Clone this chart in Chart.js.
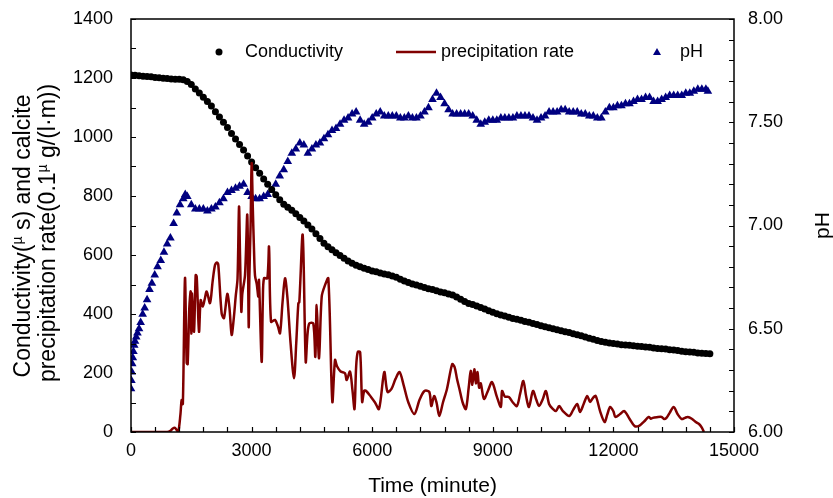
<!DOCTYPE html>
<html>
<head>
<meta charset="utf-8">
<script src="https://cdn.jsdelivr.net/npm/chart.js@4.4.0/dist/chart.umd.min.js"></script>
<style>
  html, body { margin: 0; padding: 0; background: #fff; }
  canvas { display: block; }
</style>
</head>
<body>
<canvas id="chart" width="833" height="498"></canvas>
<script>
const FONT = '"Liberation Sans", Arial, sans-serif';

// Conductivity (black dots), minutes / uS
const condTime = [0,100,200,300,400,500,600,700,800,900,1000,1100,1200,1300,1400,1500,1600,1700,1800,1900,
  2000,2100,2200,2300,2400,2500,2600,2700,2800,2900,3000,3100,3200,3300,3400,3500,3600,3700,3800,3900,
  4000,4100,4200,4300,4400,4500,4600,4700,4800,4900,5000,5100,5200,5300,5400,5500,5600,5700,5800,5900,
  6000,6100,6200,6300,6400,6500,6600,6700,6800,6900,7000,7100,7200,7300,7400,7500,7600,7700,7800,7900,
  8000,8100,8200,8300,8400,8500,8600,8700,8800,8900,9000,9100,9200,9300,9400,9500,9600,9700,9800,9900,
  10000,10100,10200,10300,10400,10500,10600,10700,10800,10900,11000,11100,11200,11300,11400,11500,11600,11700,11800,11900,
  12000,12100,12200,12300,12400,12500,12600,12700,12800,12900,13000,13100,13200,13300,13400,13500,13600,13700,13800,13900,
  14000,14100,14200,14300,14400];
const condValue = [1210,1209,1208,1206,1205,1204,1202,1201,1199,1198,1197,1196,1196,1194,1188,1178,1163,1149,1135,1120,
  1105,1086,1068,1050,1032,1012,993,975,956,936,915,896,877,858,840,822,804,787,772,762,
  752,740,727,715,702,688,672,656,640,628,618,608,598,589,580,572,565,560,555,551,
  546,543,539,536,533,529,525,518,512,507,502,498,494,490,486,483,479,475,472,468,
  464,458,450,442,436,432,427,422,417,411,406,401,397,393,389,385,382,379,375,372,
  368,364,360,357,353,350,347,343,340,337,333,330,326,322,318,314,310,307,304,302,
  300,298,296,295,294,292,291,290,288,287,285,283,282,281,279,278,276,274,272,271,
  270,268,267,266,265];

// Calcite precipitation rate (dark red line)
const precTime = [0,300,600,900,980,1040,1095,1140,1177,1230,1260,1290,1343,1385,1410,1450,1485,1500,1515,1567,
  1609,1635,1692,1733,1783,1833,1883,1965,2030,2090,2140,2172,2255,2313,2396,2450,2504,2560,2604,2650,
  2687,2712,2745,2770,2836,2893,2928,2945,2975,3002,3030,3060,3085,3130,3167,3184,3250,3280,3308,3391,
  3433,3483,3582,3650,3707,3770,3831,3889,3970,4055,4110,4163,4187,4271,4346,4390,4436,4535,4585,4619,
  4677,4744,4826,4909,5008,5075,5125,5216,5323,5366,5448,5510,5560,5600,5640,5700,5750,5800,5850,5970,
  6070,6170,6300,6380,6480,6580,6680,6780,6900,7050,7180,7300,7420,7470,7540,7600,7670,7760,7860,7990,
  8050,8110,8170,8250,8330,8400,8450,8490,8540,8580,8620,8660,8700,8780,8880,8980,9100,9200,9230,9300,
  9400,9500,9600,9680,9760,9830,9900,10000,10080,10150,10240,10320,10400,10480,10570,10650,10750,10900,11000,11100,
  11170,11260,11350,11420,11490,11560,11670,11780,11850,11920,12000,12050,12160,12270,12400,12530,12650,12760,12880,12930,
  12980,13080,13200,13260,13320,13400,13500,13600,13700,13780,13850,13950,14050,14130,14200,14250];
const precRate = [0,0,0,0,4,12,14,6,0,60,108,95,522,234,230,420,476,334,470,340,
  532,526,340,447,425,450,476,437,510,566,575,566,402,386,468,420,329,390,459,520,
  764,600,408,470,532,736,357,530,700,911,760,617,530,500,459,515,238,450,521,521,
  628,374,380,360,335,440,521,459,300,182,300,436,440,668,238,330,368,368,255,430,
  250,459,498,521,103,244,223,205,199,176,205,140,78,220,271,271,102,140,139,119,
  100,78,203,136,146,180,203,160,100,61,110,139,136,88,122,100,54,100,146,230,
  220,180,146,100,78,150,207,160,213,165,203,150,165,112,140,169,120,85,139,120,
  119,100,88,130,173,120,85,139,110,88,110,139,95,80,71,88,70,54,75,95,
  68,95,122,102,115,122,70,34,60,85,70,51,60,71,45,20,22,35,51,45,
  48,50,51,44,48,65,85,60,44,48,51,45,34,27,15,0];

// pH (navy triangles)
const phTime = [0,10,20,30,45,60,80,100,130,160,200,240,290,340,400,460,520,590,660,740,
  820,900,980,1060,1140,1220,1300,1350,1400,1500,1600,1700,1800,1900,2000,2100,2200,2300,2400,2500,
  2600,2700,2800,2900,3000,3100,3200,3300,3400,3500,3600,3700,3800,3900,4000,4100,4200,4300,4400,4500,
  4600,4700,4800,4900,5000,5100,5200,5300,5400,5500,5600,5700,5800,5900,6000,6100,6200,6300,6400,6500,
  6600,6700,6800,6900,7000,7100,7200,7300,7400,7500,7600,7700,7800,7900,8000,8100,8200,8300,8400,8500,
  8600,8700,8800,8900,9000,9100,9200,9300,9400,9500,9600,9700,9800,9900,10000,10100,10200,10300,10400,10500,
  10600,10700,10800,10900,11000,11100,11200,11300,11400,11500,11600,11700,11800,11900,12000,12100,12200,12300,12400,12500,
  12600,12700,12800,12900,13000,13100,13200,13300,13400,13500,13600,13700,13800,13900,14000,14100,14200,14300,14350];
const phValue = [6.21,6.25,6.29,6.33,6.36,6.39,6.42,6.44,6.46,6.48,6.50,6.53,6.57,6.60,6.64,6.69,6.72,6.76,6.80,6.83,
  6.87,6.91,6.94,7.01,7.06,7.10,7.13,7.15,7.14,7.10,7.08,7.08,7.08,7.07,7.08,7.09,7.11,7.13,7.16,7.17,
  7.18,7.19,7.20,7.16,7.14,7.13,7.13,7.14,7.15,7.17,7.20,7.24,7.27,7.31,7.35,7.37,7.40,7.39,7.35,7.37,
  7.39,7.40,7.42,7.44,7.46,7.47,7.49,7.51,7.52,7.54,7.55,7.51,7.49,7.50,7.52,7.54,7.55,7.53,7.53,7.53,
  7.53,7.52,7.52,7.53,7.52,7.52,7.53,7.55,7.57,7.61,7.64,7.62,7.59,7.56,7.54,7.54,7.54,7.54,7.54,7.53,
  7.51,7.49,7.50,7.51,7.51,7.51,7.52,7.52,7.52,7.52,7.53,7.53,7.53,7.53,7.52,7.51,7.52,7.53,7.55,7.55,
  7.55,7.56,7.56,7.55,7.55,7.55,7.54,7.54,7.53,7.53,7.52,7.52,7.55,7.57,7.57,7.58,7.58,7.59,7.59,7.60,
  7.61,7.61,7.62,7.62,7.60,7.60,7.61,7.62,7.63,7.63,7.63,7.63,7.64,7.64,7.65,7.66,7.66,7.66,7.65];

const toPoints = (xs, ys) => xs.map((x, i) => ({ x, y: ys[i] }));

// Axis frame, inward tick marks, titles and legend drawn on top
const decorPlugin = {
  id: 'decor',
  afterDraw(chart) {
    const { ctx, chartArea: a, scales } = chart;
    ctx.save();
    ctx.strokeStyle = '#000';
    ctx.lineWidth = 1.5;
    ctx.strokeRect(a.left, a.top, a.right - a.left, a.bottom - a.top);

    ctx.lineWidth = 1.2;
    ctx.beginPath();
    const tl = 5;
    scales.x.ticks.forEach(t => {
      const px = Math.round(scales.x.getPixelForValue(t.value)) + 0.5;
      ctx.moveTo(px, a.bottom); ctx.lineTo(px, a.bottom - tl);
    });
    scales.y.ticks.forEach(t => {
      const py = Math.round(scales.y.getPixelForValue(t.value)) + 0.5;
      ctx.moveTo(a.left, py); ctx.lineTo(a.left + tl, py);
    });
    scales.y1.ticks.forEach(t => {
      const py = Math.round(scales.y1.getPixelForValue(t.value)) + 0.5;
      ctx.moveTo(a.right, py); ctx.lineTo(a.right - tl, py);
    });
    ctx.stroke();

    ctx.fillStyle = '#000';
    ctx.textBaseline = 'middle';

    // x title
    ctx.font = `21px ${FONT}`;
    ctx.textAlign = 'center';
    ctx.fillText('Time (minute)', (a.left + a.right) / 2, 486);

    // right title
    ctx.save();
    ctx.translate(823, (a.top + a.bottom) / 2);
    ctx.rotate(-Math.PI / 2);
    ctx.fillText('pH', 0, 0);
    ctx.restore();

    // left title, two lines with a small raised mu
    const drawRotLine = (parts, cx, cy) => {
      ctx.save();
      ctx.translate(cx, cy);
      ctx.rotate(-Math.PI / 2);
      ctx.textAlign = 'left';
      let w = 0;
      parts.forEach(p => { ctx.font = `${p.sup ? 14 : 23}px ${FONT}`; w += ctx.measureText(p.t).width; });
      let x = -w / 2;
      parts.forEach(p => {
        ctx.font = `${p.sup ? 14 : 23}px ${FONT}`;
        ctx.fillText(p.t, x, p.sup ? -6 : 0);
        x += ctx.measureText(p.t).width;
      });
      ctx.restore();
    };
    drawRotLine([{ t: 'Conductivity(' }, { t: 'µ', sup: true }, { t: ' s) and calcite' }], 24, 236);
    drawRotLine([{ t: 'precipitation rate(0.1' }, { t: 'µ', sup: true }, { t: ' g/(l·m))' }], 49, 233);

    // legend
    const ds = chart.data.datasets;
    ctx.font = `18px ${FONT}`;
    ctx.textAlign = 'left';
    const ly = 52;
    ctx.fillStyle = ds[0].backgroundColor;
    ctx.beginPath(); ctx.arc(219, ly, 3.5, 0, Math.PI * 2); ctx.fill();
    ctx.fillStyle = '#000';
    ctx.fillText(ds[0].label, 245, ly);

    ctx.strokeStyle = ds[1].borderColor;
    ctx.lineWidth = 2.5;
    ctx.beginPath(); ctx.moveTo(396, ly); ctx.lineTo(436, ly); ctx.stroke();
    ctx.fillText(ds[1].label, 441, ly);

    ctx.fillStyle = ds[2].backgroundColor;
    ctx.beginPath();
    ctx.moveTo(657, ly - 4); ctx.lineTo(661, ly + 3); ctx.lineTo(653, ly + 3); ctx.closePath(); ctx.fill();
    ctx.fillStyle = '#000';
    ctx.fillText(ds[2].label, 680, ly);
    ctx.restore();
  }
};

const tickFont = { family: FONT, size: 18 };

// Fix each axis box so the plot area lands where the reference has it
const fixBox = (w, h) => s => {
  if (w !== null) s.width = w;
  if (h !== null) s.height = h;
  s.paddingTop = 0;
  s.paddingBottom = 0;
};

new Chart(document.getElementById('chart').getContext('2d'), {
  type: 'line',
  data: {
    datasets: [
      {
        label: 'Conductivity',
        data: toPoints(condTime, condValue),
        yAxisID: 'y',
        showLine: false,
        pointRadius: 3.5,
        pointBorderWidth: 0,
        backgroundColor: '#000000',
        borderColor: '#000000',
        order: 2
      },
      {
        label: 'precipitation rate',
        data: toPoints(precTime, precRate),
        yAxisID: 'y',
        borderColor: '#800000',
        backgroundColor: '#800000',
        borderWidth: 2.5,
        pointRadius: 0,
        tension: 0.3,
        order: 1
      },
      {
        label: 'pH',
        data: toPoints(phTime, phValue),
        yAxisID: 'y1',
        showLine: false,
        pointStyle: 'triangle',
        pointRadius: 5,
        pointBorderWidth: 0,
        backgroundColor: '#000080',
        borderColor: '#000080',
        order: 3
      }
    ]
  },
  options: {
    responsive: false,
    animation: false,
    layout: { padding: { top: 19, left: 0, right: 0, bottom: 0 } },
    plugins: { legend: { display: false }, tooltip: { enabled: false } },
    scales: {
      x: {
        type: 'linear', min: 0, max: 15000,
        grid: { display: false, drawTicks: false },
        border: { display: false },
        ticks: {
          stepSize: 600, autoSkip: false, maxRotation: 0, padding: 8,
          color: '#000', font: tickFont,
          callback: v => (v % 3000 === 0 ? String(v) : '')
        },
        afterFit: fixBox(null, 66)
      },
      y: {
        position: 'left', min: 0, max: 1400,
        grid: { display: false, drawTicks: false },
        border: { display: false },
        ticks: {
          stepSize: 100, autoSkip: false, padding: 18,
          color: '#000', font: tickFont,
          callback: v => (v % 200 === 0 ? String(v) : '')
        },
        afterFit: fixBox(131, null)
      },
      y1: {
        position: 'right', min: 6, max: 8,
        grid: { display: false, drawTicks: false },
        border: { display: false },
        ticks: {
          stepSize: 0.1, autoSkip: false, padding: 14,
          color: '#000', font: tickFont,
          callback: v => (Math.abs(v * 2 - Math.round(v * 2)) < 1e-6 ? v.toFixed(2) : '')
        },
        afterFit: fixBox(99, null)
      }
    }
  },
  plugins: [decorPlugin]
});
</script>
</body>
</html>
